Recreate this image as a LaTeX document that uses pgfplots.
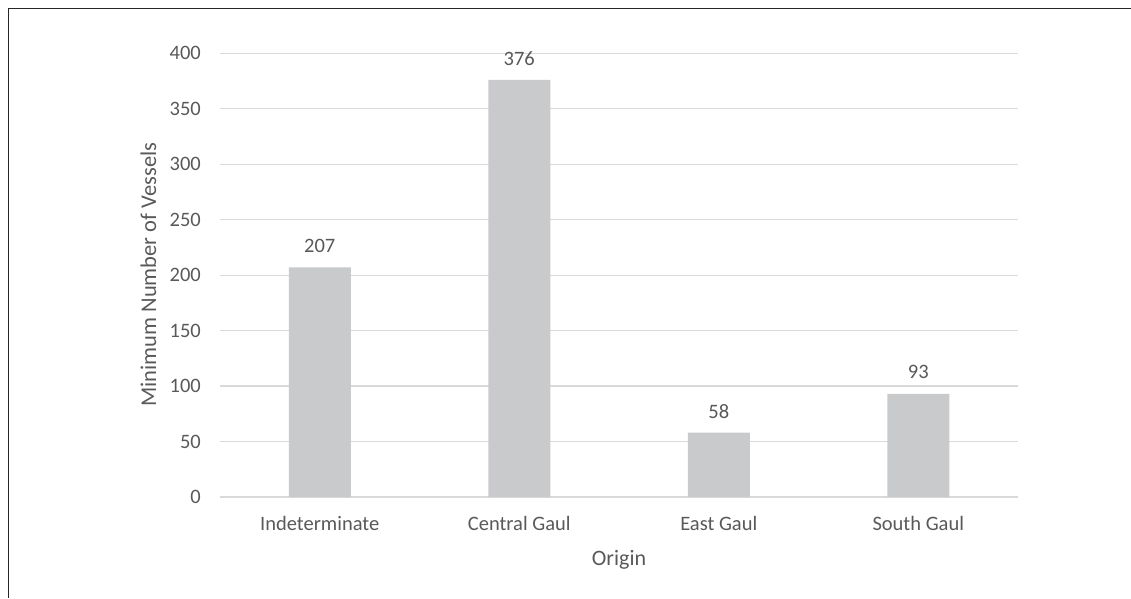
\documentclass[border=0pt]{standalone}
\usepackage{pgfplots}
\pgfplotsset{compat=1.18}
\usepackage{fontspec}
\setmainfont{Carlito}
\definecolor{bargray}{HTML}{C9CACC}
\definecolor{gridgray}{HTML}{D9D9D9}
\definecolor{txtgray}{HTML}{595959}
\begin{document}
\begin{tikzpicture}
% page and frame (1pt per pixel, origin bottom-left)
\useasboundingbox (0pt,0pt) rectangle (1131pt,598pt);
\draw[line width=1.6pt, black!85] (8.5pt,0pt) -- (8.5pt,589.5pt) -- (1131pt,589.5pt);
\begin{axis}[
  at={(220pt,101pt)}, anchor=south west,
  scale only axis, width=798pt, height=443.7pt,
  xmin=-0.5, xmax=3.5, ymin=0, ymax=400,
  axis line style={draw=none},
  ytick={0,50,...,400},
  xtick={0,1,2,3},
  xticklabels={Indeterminate, Central Gaul, East Gaul, South Gaul},
  major tick length=0pt,
  ymajorgrids, grid style={gridgray, line width=1.2pt},
  /pgf/number format/assume math mode=true,
  tick label style={font=\fontsize{20.5}{23}\selectfont, text=txtgray},
  xticklabel style={anchor=base, yshift=-33pt},
  yticklabel style={anchor=east, inner sep=0pt, xshift=-19pt},
  xlabel={Origin}, ylabel={Minimum Number of Vessels},
  xlabel style={font=\fontsize{22}{25}\selectfont, text=txtgray,
    at={(axis description cs:0.5,-0.1533)}, anchor=base},
  ylabel style={font=\fontsize{22.5}{25}\selectfont, text=txtgray,
    at={(axis description cs:-0.0802,0.501)}, anchor=base, rotate=0},
  nodes near coords,
  every node near coord/.append style={font=\fontsize{20.5}{23}\selectfont, text=txtgray, anchor=center, yshift=21.5pt},
]
\addplot[ybar, bar width=62pt, fill=bargray, draw=none] coordinates {(0,207) (1,376) (2,58) (3,93)};
\end{axis}
\end{tikzpicture}
\end{document}
